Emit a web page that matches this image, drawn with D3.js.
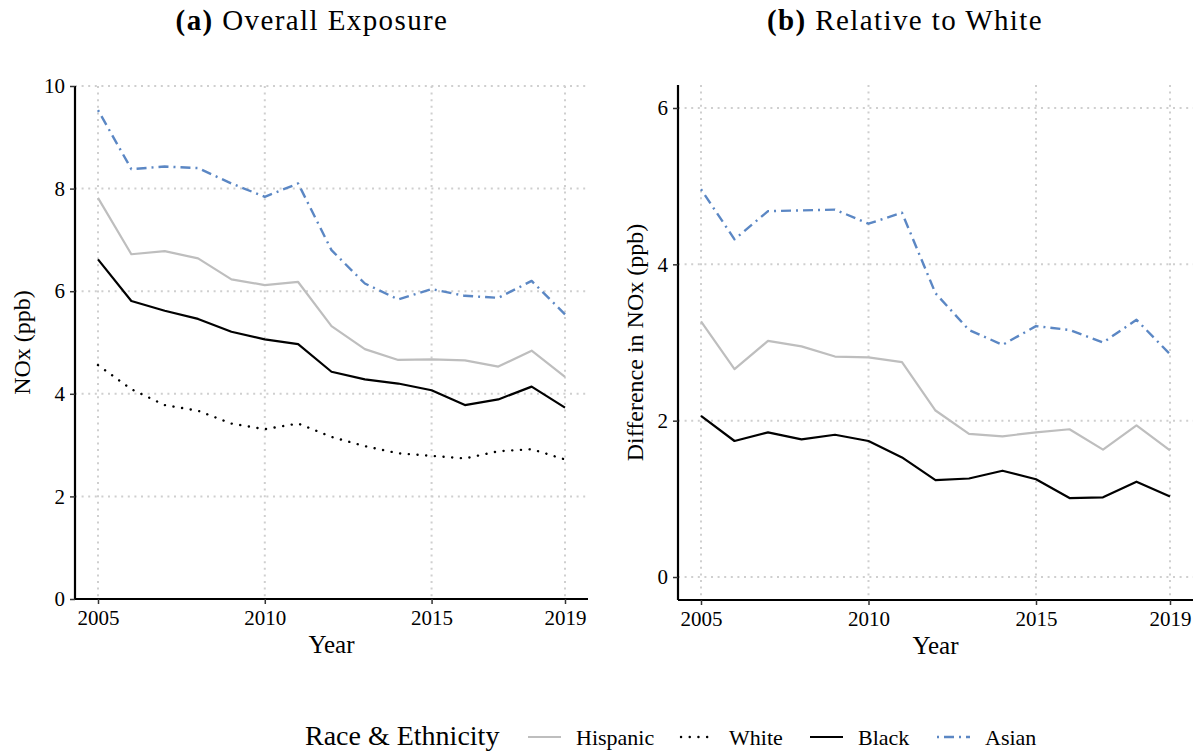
<!DOCTYPE html>
<html>
<head>
<meta charset="utf-8">
<script src="https://cdn.jsdelivr.net/npm/d3@7"></script>
<style>
  body { margin: 0; background: #fff; }
  text { font-family: "Liberation Serif", serif; fill: #000; }
</style>
</head>
<body>
<script>
// data
var years = [2005, 2006, 2007, 2008, 2009, 2010, 2011, 2012, 2013, 2014, 2015, 2016, 2017, 2018, 2019]
var xTicks = [2005, 2010, 2015, 2019]

// (a) overall exposure, NOx ppb
var overallHispanic = [7.82, 6.72, 6.78, 6.64, 6.23, 6.12, 6.18, 5.32, 4.87, 4.66, 4.67, 4.65, 4.53, 4.84, 4.33]
var overallWhite    = [4.56, 4.09, 3.78, 3.67, 3.42, 3.31, 3.42, 3.16, 2.98, 2.84, 2.79, 2.74, 2.88, 2.92, 2.72]
var overallBlack    = [6.62, 5.81, 5.62, 5.46, 5.21, 5.06, 4.97, 4.43, 4.28, 4.20, 4.07, 3.78, 3.89, 4.14, 3.73]
var overallAsian    = [9.53, 8.38, 8.43, 8.40, 8.10, 7.84, 8.10, 6.80, 6.15, 5.84, 6.04, 5.91, 5.87, 6.20, 5.55]
var overallTicks = [0, 2, 4, 6, 8, 10]

// (b) difference relative to White
var relHispanic = [3.27, 2.66, 3.02, 2.95, 2.82, 2.81, 2.75, 2.13, 1.83, 1.80, 1.85, 1.89, 1.63, 1.94, 1.62]
var relBlack    = [2.06, 1.74, 1.85, 1.76, 1.82, 1.74, 1.53, 1.24, 1.26, 1.36, 1.25, 1.01, 1.02, 1.22, 1.03]
var relAsian    = [4.96, 4.32, 4.68, 4.69, 4.70, 4.52, 4.66, 3.63, 3.16, 2.97, 3.21, 3.16, 3.00, 3.29, 2.85]
var relTicks = [0, 2, 4, 6]

var groups = ["Hispanic", "White", "Black", "Asian"]

// line styles per group
var styles = {
    "Hispanic": {stroke: "#bebebe", width: 2.2, dash: null},
    "White":    {stroke: "#000", width: 2.4, dash: "0.1,8.6", cap: "round"},
    "Black":    {stroke: "#000", width: 2.2, dash: null},
    "Asian":    {stroke: "#5b87c4", width: 2.4, dash: "2,5,10,5"}
}

const svg = d3.select("body").append("svg")
    .attr("width", 1196)
    .attr("height", 754)

function panel(opts) {
    var x = d3.scaleLinear()
        .domain([2005, 2019])
        .range([opts.left + 23, opts.right - 23])
    var y = d3.scaleLinear()
        .domain(opts.yDomain)
        .range([opts.bottom, opts.top])
    var g = svg.append("g")

    // dotted grid
    g.append("g").selectAll("line")
        .data(opts.yTicks)
        .join("line")
            .attr("x1", opts.left).attr("x2", opts.right)
            .attr("y1", d => y(d)).attr("y2", d => y(d))
            .attr("stroke", "#cfcfcf").attr("stroke-width", 2)
            .attr("stroke-dasharray", "2,4.6")
    g.append("g").selectAll("line")
        .data(xTicks)
        .join("line")
            .attr("x1", d => x(d)).attr("x2", d => x(d))
            .attr("y1", opts.top).attr("y2", opts.bottom)
            .attr("stroke", "#cfcfcf").attr("stroke-width", 2)
            .attr("stroke-dasharray", "2,4.6")

    // series
    var line = d3.line()
        .x((d, i) => x(years[i]))
        .y(d => y(d))
    opts.series.forEach(s => {
        var st = styles[s.name]
        g.append("path")
            .datum(s.values)
            .attr("d", line)
            .attr("fill", "none")
            .attr("stroke", st.stroke)
            .attr("stroke-width", st.width)
            .attr("stroke-dasharray", st.dash)
            .attr("stroke-linecap", st.cap || "butt")
            .attr("stroke-linejoin", "round")
    })

    // axes
    var xAxis = g.append("g")
        .attr("transform", `translate(0,${opts.bottom})`)
        .call(d3.axisBottom(x).tickValues(xTicks).tickFormat(d3.format("d")).tickSize(5).tickPadding(6))
    xAxis.select(".domain").attr("d", `M${opts.left},0H${opts.right}`).attr("stroke-width", 2.2)
    var yAxis = g.append("g")
        .attr("transform", `translate(${opts.left},0)`)
        .call(d3.axisLeft(y).tickValues(opts.yTicks).tickFormat(d3.format("d")).tickSize(5).tickPadding(5))
    yAxis.select(".domain").attr("d", `M0,${opts.top}V${opts.bottom}`).attr("stroke-width", 2.2)
    g.selectAll(".tick line").attr("stroke", "#333").attr("stroke-width", 1.5)
    g.selectAll(".tick text")
        .attr("font-family", "Liberation Serif")
        .attr("font-size", 21)
        .attr("fill", "#1a1a1a")

    // titles
    g.append("text")
        .attr("x", (opts.left + opts.right) / 2)
        .attr("y", opts.bottom + 54)
        .attr("text-anchor", "middle")
        .attr("font-size", 25)
        .text("Year")
    g.append("text")
        .attr("transform", `translate(${opts.yTitleX},${(opts.top + opts.bottom) / 2}) rotate(-90)`)
        .attr("text-anchor", "middle")
        .attr("font-size", 24)
        .text(opts.yTitle)
    var t = g.append("text")
        .attr("x", opts.titleX)
        .attr("y", 30)
        .attr("text-anchor", "middle")
        .attr("font-size", 29)
        .attr("letter-spacing", 1.4)
    t.append("tspan").attr("font-weight", "bold").text(opts.tag)
    t.append("tspan").text(" " + opts.title)
}

panel({
    left: 75, right: 588, top: 86, bottom: 599,
    yDomain: [0, 10], yTicks: overallTicks,
    yTitle: "NOx (ppb)", yTitleX: 30,
    tag: "(a)", title: "Overall Exposure", titleX: 312,
    series: [
        {name: "Hispanic", values: overallHispanic},
        {name: "White", values: overallWhite},
        {name: "Black", values: overallBlack},
        {name: "Asian", values: overallAsian}
    ]
})

panel({
    left: 678, right: 1193, top: 85, bottom: 600,
    yDomain: [-0.294, 6.294], yTicks: relTicks,
    yTitle: "Difference in NOx (ppb)", yTitleX: 643,
    tag: "(b)", title: "Relative to White", titleX: 905,
    series: [
        {name: "Hispanic", values: relHispanic},
        {name: "Black", values: relBlack},
        {name: "Asian", values: relAsian}
    ]
})

// legend
var legend = svg.append("g").attr("transform", "translate(0,745)")
legend.append("text")
    .attr("x", 305)
    .attr("font-size", 28)
    .text("Race & Ethnicity")
var keyX = [528, 681, 810, 937]
groups.forEach((name, i) => {
    var st = styles[name]
    legend.append("line")
        .attr("x1", keyX[i]).attr("x2", keyX[i] + 33)
        .attr("y1", -8).attr("y2", -8)
        .attr("stroke", st.stroke)
        .attr("stroke-width", st.width)
        .attr("stroke-dasharray", st.dash)
        .attr("stroke-linecap", st.cap || "butt")
    legend.append("text")
        .attr("x", keyX[i] + 48)
        .attr("font-size", 22)
        .text(name)
})
</script>
</body>
</html>
